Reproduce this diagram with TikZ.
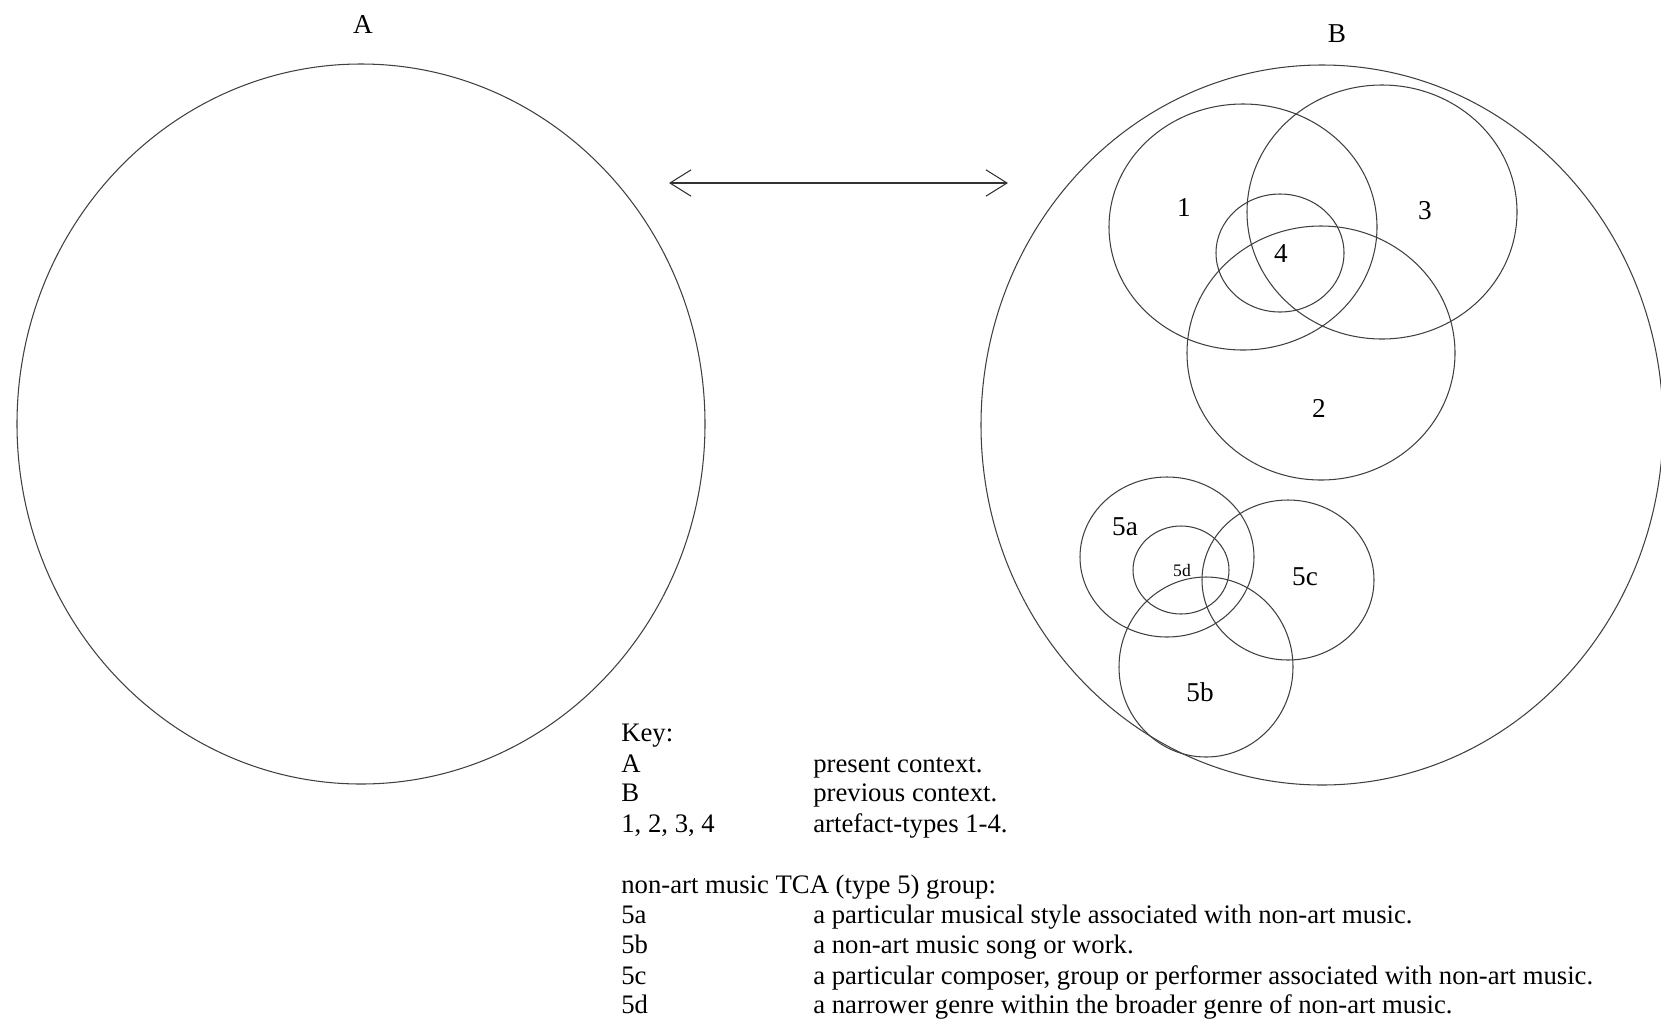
\documentclass[tikz,border=0pt]{standalone}
\usepackage{fontspec}
\setmainfont{Liberation Serif}
\usetikzlibrary{arrows.meta}
\tikzset{ring/.style={draw=black!75, line width=0.6pt},
 keytext/.style={anchor=base west, inner sep=0pt, font=\fontsize{15.2}{17}\selectfont},
 lbl/.style={font=\fontsize{15.5}{17}\selectfont},
 }

\begin{document}
\begin{tikzpicture}[x=0.02cm, y=-0.02cm]
        \useasboundingbox (0,0) rectangle (1661,1022);
        % contexts
        \draw[ring] (361,424) ellipse [x radius=344, y radius=360];
        \draw[ring] (1322,425) ellipse [x radius=341, y radius=360];
        \node[lbl] (lblA) at (363,25) {A};
        \node[lbl] (lblB) at (1337,34) {B};
        \coordinate (arrL) at (669,183);
        \coordinate (arrR) at (1008,183);
        \draw[black!80, line width=0.6pt, {Straight Barb[length=12pt,width=15pt]}-{Straight Barb[length=12pt,width=15pt]}] (arrL) -- (arrR);
        % artefact-types
        \draw[ring] (1243,227) ellipse [x radius=134, y radius=123];
        \draw[ring] (1382,212) ellipse [x radius=135, y radius=127];
        \draw[ring] (1321,353) ellipse [x radius=134, y radius=127];
        \draw[ring] (1280,253) ellipse [x radius=64, y radius=59];
        \node[lbl] (t1) at (1184,208) {1};
        \node[lbl] (t3) at (1425,211) {3};
        \node[lbl] (t4) at (1281,254) {4};
        \node[lbl] (t2) at (1319,408) {2};
        % type 5 group
        \draw[ring] (1167,557) ellipse [x radius=87, y radius=80];
        \draw[ring] (1288,580) ellipse [x radius=86, y radius=80];
        \draw[ring] (1206,667) ellipse [x radius=87, y radius=90];
        \draw[ring] (1181,570) ellipse [x radius=48, y radius=44];
        \node[lbl] (t5a) at (1125,527) {5a};
        \node[lbl] (t5c) at (1305,577) {5c};
        \node[lbl] (t5b) at (1200,692) {5b};
        \node[font=\fontsize{10}{12}\selectfont] (t5d) at (1182,570) {5d};
        % key
        \node[keytext] (k0) at (621,741) {Key:};
        \node[keytext] (k1) at (621,772) {A};
        \node[keytext] (k1d) at (813,772) {present context.};
        \node[keytext] (k2) at (621,801) {B};
        \node[keytext] (k2d) at (813,801) {previous context.};
        \node[keytext] (k3) at (621,832) {1, 2, 3, 4};
        \node[keytext] (k3d) at (813,832) {artefact-types 1-4.};
        \node[keytext] (g0) at (621,893) {non-art music TCA (type 5) group:};
        \node[keytext] (g1) at (621,923) {5a};
        \node[keytext] (g1d) at (813,923) {a particular musical style associated with non-art music.};
        \node[keytext] (g2) at (621,953) {5b};
        \node[keytext] (g2d) at (813,953) {a non-art music song or work.};
        \node[keytext] (g3) at (621,984) {5c};
        \node[keytext] (g3d) at (813,984) {a particular composer, group or performer associated with non-art music.};
        \node[keytext] (g4) at (621,1013) {5d};
        \node[keytext] (g4d) at (813,1013) {a narrower genre within the broader genre of non-art music.};
    \end{tikzpicture}
\end{document}
